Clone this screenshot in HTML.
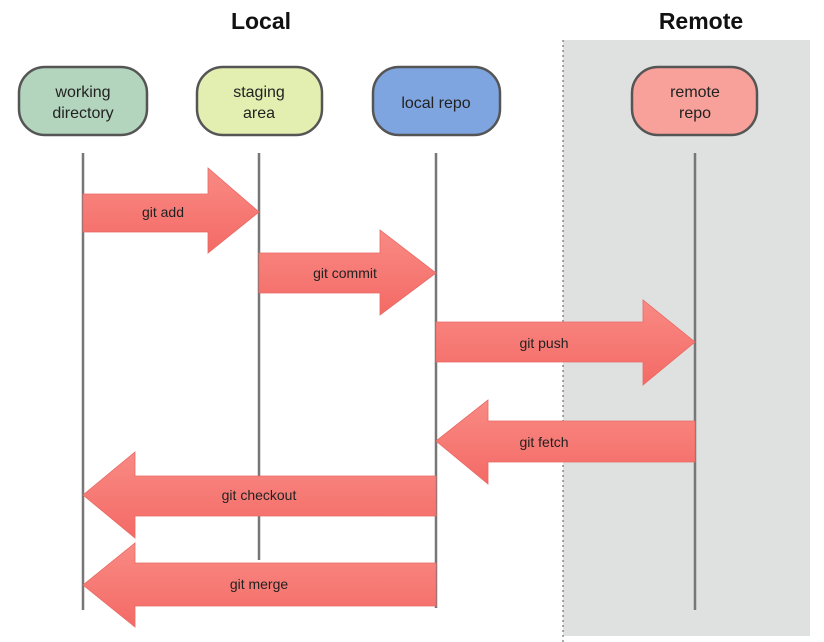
<!DOCTYPE html>
<html><head><style>
body{margin:0;background:#fff;}
svg{display:block;font-family:"Liberation Sans",sans-serif;}
</style></head><body>
<svg width="824" height="642" viewBox="0 0 824 642">
<defs>
<linearGradient id="ar" x1="0" y1="0" x2="0" y2="1">
<stop offset="0" stop-color="#f98a84"/><stop offset="1" stop-color="#f46a66"/>
</linearGradient>
</defs>
<rect x="563" y="40" width="247" height="596" fill="#dfe1e0"/>
<line x1="563" y1="40" x2="563" y2="642" stroke="#555" stroke-width="1" stroke-dasharray="2,3"/>
<text x="261" y="29" font-size="23" font-weight="bold" text-anchor="middle" fill="#111">Local</text>
<text x="701" y="29" font-size="23" font-weight="bold" text-anchor="middle" fill="#111">Remote</text>
<g stroke="#555" stroke-width="2.5">
<rect x="19" y="67" width="128" height="68" rx="26" fill="#b3d4bd"/>
<rect x="197" y="67" width="125" height="68" rx="26" fill="#e3eeb1"/>
<rect x="373" y="67" width="127" height="68" rx="26" fill="#7ea5e0"/>
<rect x="632" y="67" width="125" height="68" rx="26" fill="#f8a19a"/>
</g>
<g font-size="16" fill="#222" text-anchor="middle">
<text x="83" y="97">working</text><text x="83" y="118">directory</text>
<text x="259" y="97">staging</text><text x="259" y="118">area</text>
<text x="436" y="108">local repo</text>
<text x="695" y="97">remote</text><text x="695" y="118">repo</text>
</g>
<g stroke="#777" stroke-width="2.5">
<line x1="83" y1="153" x2="83" y2="610"/>
<line x1="259" y1="153" x2="259" y2="560"/>
<line x1="436" y1="153" x2="436" y2="608"/>
<line x1="695" y1="153" x2="695" y2="610"/>
</g>
<g fill="url(#ar)" stroke="#e86a64" stroke-width="0.8">
<polygon points="83,194 208,194 208,168 259,212 208,253 208,232 83,232"/>
<polygon points="259,253 380,253 380,230 436,273 380,315 380,293 259,293"/>
<polygon points="436,322 643,322 643,300 695,342 643,385 643,362 436,362"/>
<polygon points="695,421 488,421 488,400 436,441 488,484 488,462 695,462"/>
<polygon points="436,476 135,476 135,452 83,495 135,538 135,516 436,516"/>
<polygon points="436,563 135,563 135,543 83,585 135,627 135,606 436,606"/>
</g>
<g font-size="14" fill="#222" text-anchor="middle">
<text x="163" y="217">git add</text>
<text x="345" y="278">git commit</text>
<text x="544" y="348">git push</text>
<text x="544" y="447">git fetch</text>
<text x="259" y="500">git checkout</text>
<text x="259" y="589">git merge</text>
</g>
</svg>
</body></html>
